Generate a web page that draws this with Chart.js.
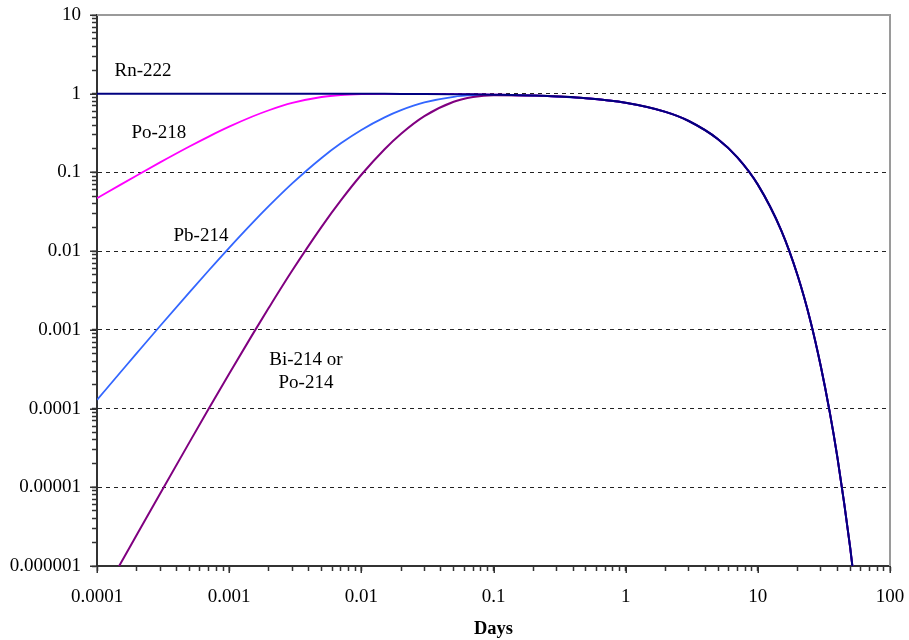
<!DOCTYPE html>
<html>
<head>
<meta charset="utf-8">
<script src="https://cdn.jsdelivr.net/npm/chart.js"></script>
<style>
  html, body { margin: 0; padding: 0; background: #fff; }
  #wrap { width: 909px; height: 640px; }
</style>
</head>
<body>
<div id="wrap"><canvas id="decay" width="909" height="640"></canvas></div>
<script>
// time in days (x)
const days = [0.0001, 0.00015, 0.0002, 0.0003, 0.0005, 0.0007, 0.001, 0.0015, 0.002, 0.003,
  0.005, 0.007, 0.01, 0.015, 0.02, 0.03, 0.05, 0.07, 0.1, 0.2,
  0.5, 1, 2, 3, 5, 7, 10, 15, 20, 25,
  30, 35, 40, 45, 50, 55];
// relative activity of each nuclide
const rn222 = [1, 1, 1, 1, 0.9999, 0.9998, 0.9997, 0.9996, 0.9995, 0.9992,
  0.9987, 0.9981, 0.9973, 0.996, 0.9947, 0.992, 0.9868, 0.9816, 0.9737, 0.9482,
  0.8754, 0.7664, 0.5874, 0.4502, 0.2645, 0.1554, 0.07, 0.0185, 0.0049, 0.0013,
  0.00034, 0.00009, 0.000024, 0.0000063, 0.0000017, 0.00000044];
const po218 = [0.0469, 0.0695, 0.0915, 0.1341, 0.2134, 0.2854, 0.3811, 0.5131, 0.6168, 0.7625,
  0.9081, 0.9635, 0.9892, 0.9953, 0.9947, 0.992, 0.9868, 0.9816, 0.9737, 0.9482,
  0.8754, 0.7664, 0.5874, 0.4502, 0.2645, 0.1554, 0.07, 0.0185, 0.0049, 0.0013,
  0.00034, 0.00009, 0.000024, 0.0000063, 0.0000017, 0.00000044];
const pb214 = [0.000129, 0.000287, 0.000506, 0.00112, 0.0030, 0.00568, 0.01102, 0.02285, 0.0375, 0.0725,
  0.1527, 0.2341, 0.3465, 0.5006, 0.6181, 0.7744, 0.9142, 0.9574, 0.9691, 0.9482,
  0.8754, 0.7664, 0.5874, 0.4502, 0.2645, 0.1554, 0.07, 0.0185, 0.0049, 0.0013,
  0.00034, 0.00009, 0.000024, 0.0000063, 0.0000017, 0.00000044];
const bi214 = [0.000000316, 0.00000106, 0.00000249, 0.00000828, 0.0000372, 0.0000992, 0.000277, 0.00087, 0.00192, 0.00567,
  0.02036, 0.04414, 0.0934, 0.1973, 0.3103, 0.519, 0.7897, 0.9069, 0.9578, 0.948,
  0.8754, 0.7664, 0.5874, 0.4502, 0.2645, 0.1554, 0.07, 0.0185, 0.0049, 0.0013,
  0.00034, 0.00009, 0.000024, 0.0000063, 0.0000017, 0.00000044];

const xTickLabels = ["0.0001", "0.001", "0.01", "0.1", "1", "10", "100"];
const yTickLabels = ["0.000001", "0.00001", "0.0001", "0.001", "0.01", "0.1", "1", "10"];

// in-plot labels (placed in data units)
const noteText = ["Rn-222", "Po-218", "Pb-214", "Bi-214 or", "Po-214"];
const noteDay = [0.000223, 0.000294, 0.000612, 0.00381, 0.00381];
const noteValue = [1.96, 0.319, 0.0157, 0.000417, 0.000213];

const serif = "'Liberation Serif', 'Times New Roman', serif";
Chart.defaults.font.family = serif;
Chart.defaults.font.size = 19;
Chart.defaults.color = "#000";

const MINOR_TICK = 5;
const MAJOR_TICK = 7;

function pts(ys) {
  return days.map((d, i) => ({ x: d, y: ys[i] }));
}

// 1..9 ticks in every decade, labels only on powers of ten
function decadeTicks(labels) {
  const ticks = [];
  labels.forEach((lab, i) => {
    const base = Number(lab);
    ticks.push({ value: base });
    if (i < labels.length - 1) {
      for (let d = 2; d <= 9; d++) ticks.push({ value: base * d });
    }
  });
  return ticks;
}
function labelFor(labels, v) {
  for (const lab of labels) {
    if (Math.abs(Number(lab) - v) / Number(lab) < 1e-6) return lab;
  }
  return "";
}
function isMajor(labels, v) {
  return labelFor(labels, v) !== "";
}

// gray top/right frame of the plot area
const frame = {
  id: "frame",
  beforeDatasetsDraw(chart) {
    const { ctx, chartArea } = chart;
    ctx.save();
    ctx.strokeStyle = "#9a9a9a";
    ctx.lineWidth = 2;
    ctx.beginPath();
    ctx.moveTo(chartArea.left, chartArea.top);
    ctx.lineTo(chartArea.right, chartArea.top);
    ctx.lineTo(chartArea.right, chartArea.bottom);
    ctx.stroke();
    ctx.restore();
  }
};

// major ticks a bit longer than the minor ones
const majorTicks = {
  id: "majorTicks",
  afterDraw(chart) {
    const { ctx, scales } = chart;
    ctx.save();
    ctx.strokeStyle = "#333";
    ctx.lineWidth = 1.5;
    ctx.beginPath();
    xTickLabels.forEach((lab) => {
      const px = Math.round(scales.x.getPixelForValue(Number(lab))) + 0.25;
      ctx.moveTo(px, scales.x.top);
      ctx.lineTo(px, scales.x.top + MAJOR_TICK);
    });
    yTickLabels.forEach((lab) => {
      const py = Math.round(scales.y.getPixelForValue(Number(lab))) + 0.25;
      ctx.moveTo(scales.y.right, py);
      ctx.lineTo(scales.y.right - MAJOR_TICK, py);
    });
    ctx.stroke();
    ctx.restore();
  }
};

const notes = {
  id: "notes",
  afterDatasetsDraw(chart) {
    const { ctx, scales } = chart;
    ctx.save();
    ctx.font = "19px " + serif;
    ctx.fillStyle = "#000";
    ctx.textAlign = "center";
    ctx.textBaseline = "middle";
    noteText.forEach((t, i) => {
      ctx.fillText(t, scales.x.getPixelForValue(noteDay[i]), scales.y.getPixelForValue(noteValue[i]));
    });
    ctx.restore();
  }
};

new Chart(document.getElementById("decay"), {
  type: "line",
  plugins: [frame, notes, majorTicks],
  data: {
    datasets: [
      { label: "Rn-222", data: pts(rn222), borderColor: "#000080", borderWidth: 2 },
      { label: "Bi-214 or Po-214", data: pts(bi214), borderColor: "#800080", borderWidth: 2 },
      { label: "Pb-214", data: pts(pb214), borderColor: "#3366ff", borderWidth: 1.8 },
      { label: "Po-218", data: pts(po218), borderColor: "#ff00ff", borderWidth: 1.8 }
    ]
  },
  options: {
    responsive: false,
    animation: false,
    devicePixelRatio: 1,
    layout: { padding: { left: 0, right: 19, top: 15, bottom: 0 } },
    elements: {
      point: { radius: 0 },
      line: { cubicInterpolationMode: "monotone", fill: false }
    },
    plugins: { legend: { display: false }, tooltip: { enabled: false } },
    scales: {
      x: {
        type: "logarithmic",
        min: 0.0001,
        max: 100,
        afterBuildTicks: (s) => { s.ticks = decadeTicks(xTickLabels); },
        afterFit: (s) => {
          s.height = 74;
          s.paddingLeft = 0;
          s.paddingRight = 0;
        },
        ticks: {
          autoSkip: false,
          maxRotation: 0,
          padding: 15,
          callback: (v) => labelFor(xTickLabels, v)
        },
        grid: {
          drawOnChartArea: false,
          tickLength: MINOR_TICK,
          tickColor: "#333",
          tickWidth: 1.5
        },
        border: { color: "#333", width: 2 },
        title: {
          display: true,
          text: "Days",
          font: { size: 18.5, weight: "bold" },
          padding: { top: 0, bottom: 0 }
        }
      },
      y: {
        type: "logarithmic",
        min: 0.000001,
        max: 10,
        afterBuildTicks: (s) => { s.ticks = decadeTicks(yTickLabels); },
        afterFit: (s) => {
          s.width = 97;
          s.paddingTop = 0;
          s.paddingBottom = 0;
        },
        ticks: {
          autoSkip: false,
          padding: 11,
          callback: (v) => labelFor(yTickLabels, v)
        },
        grid: {
          tickLength: MINOR_TICK,
          tickColor: "#333",
          tickWidth: 1.5,
          lineWidth: 1,
          color: (c) => {
            const v = c.tick ? c.tick.value : 0;
            if (!isMajor(yTickLabels, v) || v >= 10 || v <= 0.000001) return "rgba(0,0,0,0)";
            return "#222";
          }
        },
        border: { color: "#333", width: 2, dash: [4, 4] }
      }
    }
  }
});
</script>
</body>
</html>
